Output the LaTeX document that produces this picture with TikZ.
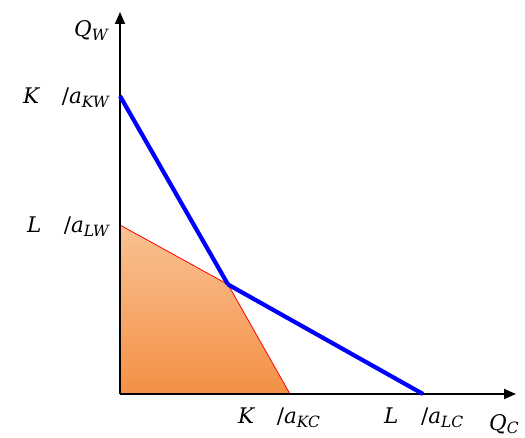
\documentclass[tikz,border=0pt]{standalone}
\usepackage{fontspec}
\setmainfont{DejaVu Serif}
\usetikzlibrary{arrows.meta}
\definecolor{bl}{RGB}{0,0,255}
\definecolor{orTop}{RGB}{249,194,146}
\definecolor{orBot}{RGB}{244,144,70}
\newcommand{\sublab}[1]{\raisebox{-0.17em}{\fontsize{15.5}{17}\selectfont\itshape #1}}
\newcommand{\ratio}[3]{\itshape #1\hspace{1.05em}\upshape/\itshape #2\sublab{#3}}
\begin{document}
\begin{tikzpicture}[x=1pt,y=-1pt,
  axis/.style={line width=1.8pt,-{Triangle[length=12pt,width=10pt]}},
  budget/.style={draw=bl,line width=4.2pt},
  lbl/.style={inner sep=0pt,font=\fontsize{21.5}{24}\selectfont}]
\useasboundingbox (0,0) rectangle (525,438);
\coordinate (O) at (120,394);
\coordinate (KW) at (120,96);
\coordinate (LW) at (120,225);
\coordinate (X) at (228,284.5);
\coordinate (KC) at (290,394);
\coordinate (LC) at (423,394);
\coordinate (YT) at (120,12);
\coordinate (XT) at (516,394);
% feasible region
\shade[top color=orTop,bottom color=orBot] (O) -- (LW) -- (X) -- (KC) -- cycle;
\draw[red,line width=0.8pt] (LW) -- (X) -- (KC);
% axes
\draw[axis] (O) -- (YT);
\draw[axis] (O) -- (XT);
% budget lines
\draw[budget] (KW) -- (X);
\draw[budget] (X) -- (LC);
% labels
\node[lbl,anchor=base east] (qw) at (108,37) {\itshape Q\sublab{W}};
\node[lbl,anchor=base east] (kw) at (109,104) {\ratio{K}{a}{KW}};
\node[lbl,anchor=base east] (lw) at (109,233) {\ratio{L}{a}{LW}};
\node[lbl,anchor=base west] (kc) at (238,424) {\ratio{K}{a}{KC}};
\node[lbl,anchor=base west] (lc) at (384,424) {\ratio{L}{a}{LC}};
\node[lbl,anchor=base west] (qc) at (489,430) {\itshape Q\sublab{C}};
\end{tikzpicture}
\end{document}
